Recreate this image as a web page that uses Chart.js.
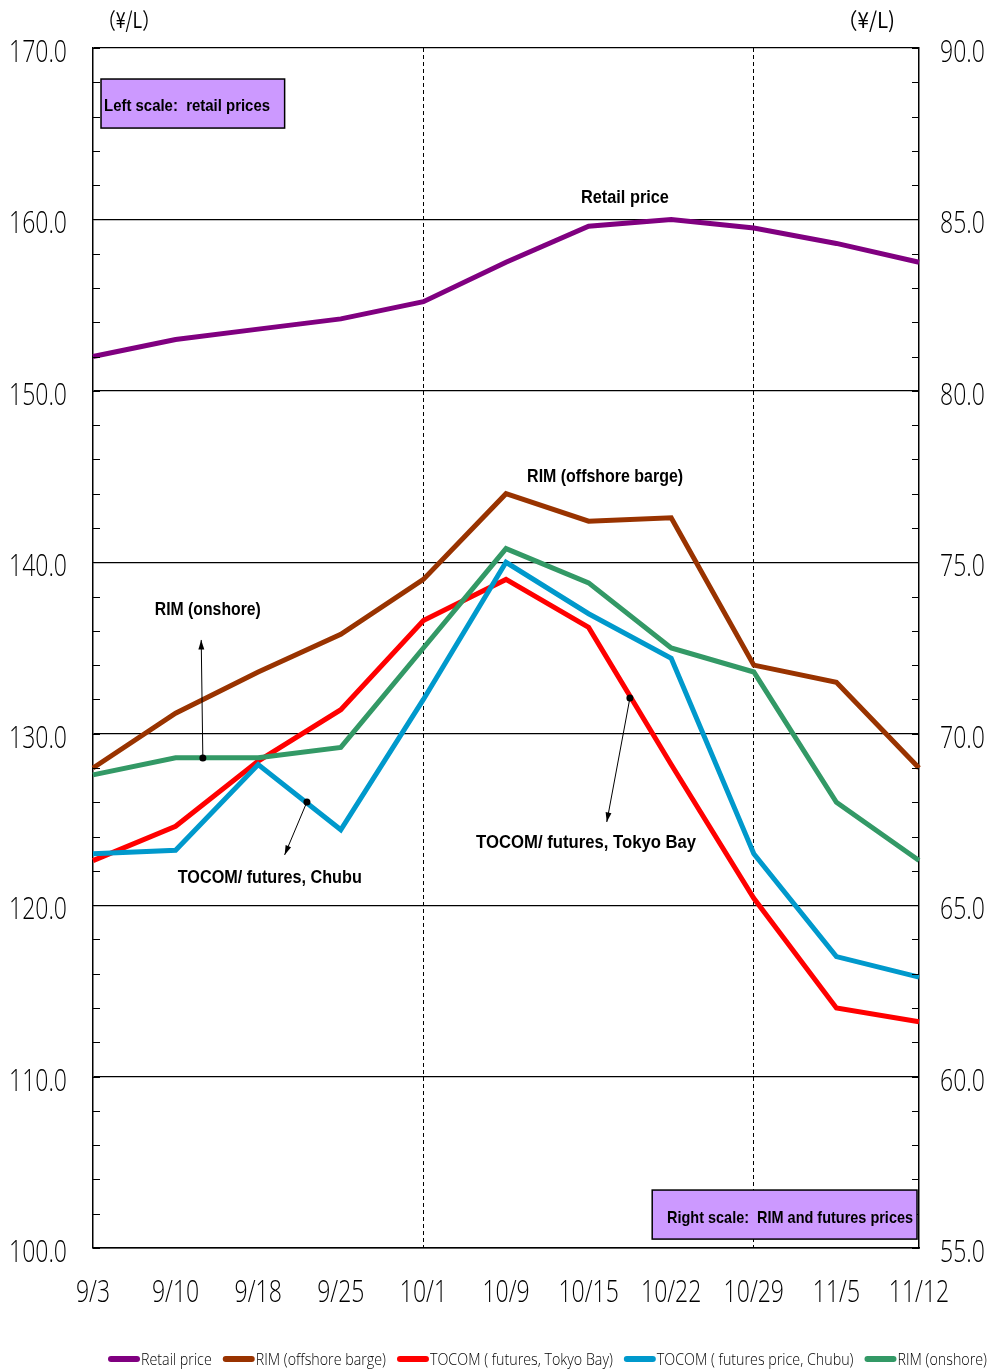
<!DOCTYPE html>
<html><head><meta charset="utf-8">
<script src="https://cdn.jsdelivr.net/npm/chart.js@4/dist/chart.umd.min.js"></script>
<style>html,body{margin:0;padding:0;background:#fff;}#wrap{width:989px;height:1370px;}</style>
</head><body><div id="wrap"><canvas id="c" width="989" height="1370"></canvas></div>
<script>
const categories = ['9/3','9/10','9/18','9/25','10/1','10/9','10/15','10/22','10/29','11/5','11/12'];
const retailPrice = [152.0,153.0,153.6,154.2,155.2,157.5,159.6,160.0,159.5,158.6,157.5];
const rimOffshore = [69.0,70.6,71.8,72.9,74.5,77.0,76.2,76.3,72.0,71.5,69.0];
const tocomTokyo = [66.3,67.3,69.2,70.7,73.3,74.5,73.1,69.1,65.2,62.0,61.6];
const tocomChubu = [66.5,66.6,69.1,67.2,71.0,75.0,73.5,72.2,66.5,63.5,62.9];
const rimOnshore = [68.8,69.3,69.3,69.6,72.5,75.4,74.4,72.5,71.8,68.0,66.3];
const seriesNames = ['Retail price','RIM (offshore barge)','TOCOM ( futures, Tokyo Bay)','TOCOM ( futures price, Chubu)','RIM (onshore)'];
const leftTicks = {min:100, max:170, step:2, major:10};
const rightTicks = {min:55, max:90, step:1, major:5};

const SANS = "'Liberation Sans', Arial, sans-serif";
const THIN = "300 31px 'Open Sans', 'Liberation Sans', sans-serif";
const THIN_S = "300 17px 'Open Sans', 'Liberation Sans', sans-serif";
const colors = ['#800080','#993300','#FF0000','#0099CC','#339966'];
const dataList = [retailPrice, rimOffshore, tocomTokyo, tocomChubu, rimOnshore];
const axisIds = ['yL','yR','yR','yR','yR'];

const datasets = dataList.map((d,i)=>({
  label: seriesNames[i], data: d, yAxisID: axisIds[i],
  borderColor: colors[i], backgroundColor: colors[i],
  borderWidth: 5, pointRadius: 0, tension: 0, order: 5-i,
  borderJoinStyle: 'miter'
}));

function txt(ctx, s, x, y, font, align, sx, baseline){
  ctx.save();
  ctx.font = font; ctx.textAlign = align; ctx.textBaseline = baseline || 'alphabetic';
  ctx.translate(x, y); ctx.scale(sx, 1); ctx.fillText(s, 0, 0);
  ctx.restore();
}
function measure(ctx, s, font){ ctx.save(); ctx.font = font; const w = ctx.measureText(s).width; ctx.restore(); return w; }
function fitTxt(ctx, s, x, y, font, align, width, baseline){
  txt(ctx, s, x, y, font, align, width / measure(ctx, s, font), baseline);
}

function arrow(ctx, x1,y1,x2,y2){
  ctx.beginPath(); ctx.moveTo(x1,y1); ctx.lineTo(x2,y2); ctx.stroke();
  const a = Math.atan2(y2-y1,x2-x1), L=10, w=0.3;
  ctx.beginPath(); ctx.moveTo(x2,y2);
  ctx.lineTo(x2-L*Math.cos(a-w), y2-L*Math.sin(a-w));
  ctx.lineTo(x2-L*Math.cos(a+w), y2-L*Math.sin(a+w));
  ctx.closePath(); ctx.fill();
  ctx.beginPath(); ctx.arc(x1,y1,3.5,0,Math.PI*2); ctx.fill();
}

const decor = {
  id:'decor',
  afterDraw(chart){
    const {ctx, chartArea:ca, scales} = chart;
    const x = scales.x, yL = scales.yL, yR = scales.yR;
    ctx.save();
    ctx.strokeStyle='#000'; ctx.lineWidth=1; ctx.fillStyle='#000';
    const sxT = 58 / measure(ctx, '170.0', THIN);
    yL.ticks.forEach(t=>{
      const p = Math.round(yL.getPixelForValue(t.value))+0.5;
      ctx.beginPath(); ctx.moveTo(ca.left, p); ctx.lineTo(ca.left+7, p); ctx.stroke();
      if (Math.round(t.value)%leftTicks.major===0)
        txt(ctx, t.value.toFixed(1), ca.left-26, yL.getPixelForValue(t.value)+14, THIN, 'right', sxT);
    });
    yR.ticks.forEach(t=>{
      const p = Math.round(yR.getPixelForValue(t.value))+0.5;
      ctx.beginPath(); ctx.moveTo(ca.right-7, p); ctx.lineTo(ca.right, p); ctx.stroke();
      if (Math.round(t.value)%rightTicks.major===0)
        txt(ctx, t.value.toFixed(1), ca.right+21, yR.getPixelForValue(t.value)+14, THIN, 'left', sxT);
    });
    x.ticks.forEach((t)=>{
      txt(ctx, categories[t.value], x.getPixelForValue(t.value), ca.bottom+54, THIN, 'center', sxT);
    });
    // units
    fitTxt(ctx, '（¥/L）', ca.left+36, 28, "22px 'Noto Sans CJK JP', "+SANS, 'center', 62);
    fitTxt(ctx, '（¥/L)', ca.right-53, 28, "22px 'Noto Sans CJK JP', "+SANS, 'center', 58);
    // boxes
    const box = (i1,v1,i2,v2,text,align,w)=>{
      const bx1=x.getPixelForValue(i1), bx2=x.getPixelForValue(i2);
      const by1=yL.getPixelForValue(v1), by2=yL.getPixelForValue(v2);
      ctx.fillStyle='#CC99FF'; ctx.fillRect(bx1,by1,bx2-bx1,by2-by1);
      ctx.strokeStyle='#000'; ctx.lineWidth=1.5; ctx.strokeRect(bx1,by1,bx2-bx1,by2-by1);
      ctx.fillStyle='#000';
      if(align==='left') fitTxt(ctx, text, bx1+3, (by1+by2)/2+7, 'bold 17px '+SANS, 'left', w);
      else fitTxt(ctx, text, bx2-4, (by1+by2)/2+8, 'bold 17px '+SANS, 'right', w);
    };
    box(0.097,168.19,2.32,165.33,'Left scale:  retail prices','left',166);
    box(6.77,103.38,9.976,100.52,'Right scale:  RIM and futures prices','right',246);
    ctx.fillStyle='#000';
    const lab=(i,v,t,w)=>fitTxt(ctx, t, x.getPixelForValue(i), yL.getPixelForValue(v)+7, 'bold 18px '+SANS, 'center', w);
    lab(6.44,161.37,'Retail price',88);
    lab(6.20,145.09,'RIM (offshore barge)',156);
    lab(1.39,137.33,'RIM (onshore)',106);
    lab(2.14,121.7,'TOCOM/ futures, Chubu',184);
    lab(5.97,123.74,'TOCOM/ futures, Tokyo Bay',220);
    ctx.strokeStyle='#000'; ctx.fillStyle='#000'; ctx.lineWidth=1;
    const arr=(i1,v1,i2,v2)=>arrow(ctx,x.getPixelForValue(i1),yL.getPixelForValue(v1),x.getPixelForValue(i2),yL.getPixelForValue(v2));
    arr(1.33,128.58,1.31,135.47);
    arr(2.59,126.02,2.32,122.93);
    arr(6.50,132.08,6.22,124.85);
    // legend (custom, fitted between x=108 and x=987)
    const dsl = chart.data.datasets;
    const swatch = 33, gap = 11, startX = 108, endX = 987, ly = 1359;
    const natural = dsl.reduce((s,ds)=>s+measure(ctx, ds.label, THIN_S), 0);
    const sxL = (endX - startX - dsl.length*swatch - (dsl.length-1)*gap) / natural;
    let lx = startX;
    dsl.forEach((ds)=>{
      ctx.strokeStyle = ds.borderColor; ctx.lineWidth = 6; ctx.lineCap='round';
      ctx.beginPath(); ctx.moveTo(lx+3, ly); ctx.lineTo(lx+29, ly); ctx.stroke();
      ctx.fillStyle='#000';
      txt(ctx, ds.label, lx+swatch, ly+6, THIN_S, 'left', sxL);
      lx += swatch + measure(ctx, ds.label, THIN_S)*sxL + gap;
    });
    ctx.restore();
  }
};

new Chart(document.getElementById('c'), {
  type:'line',
  data:{labels:categories, datasets},
  plugins:[decor],
  options:{
    responsive:false, animation:false, devicePixelRatio:1,
    layout:{padding:{top:48,left:0,right:0,bottom:0}},
    plugins:{ tooltip:{enabled:false}, legend:{display:false} },
    scales:{
      x:{offset:false,
        grid:{drawTicks:false, lineWidth:1, color:(c)=> (c.index===4||c.index===8)?'#000':'rgba(0,0,0,0)'},
        border:{display:true, color:'#000', width:1.5, dash:[4,3]},
        ticks:{display:false, autoSkip:false},
        afterFit:(s)=>{s.height=122;}
      },
      yL:{position:'left', min:leftTicks.min, max:leftTicks.max,
        grid:{drawTicks:false, lineWidth:1.2, color:(c)=> (c.tick && Math.round(c.tick.value)%leftTicks.major===0)?'#000':'rgba(0,0,0,0)'},
        border:{display:true,color:'#000',width:1.5},
        ticks:{display:false, stepSize:leftTicks.step, autoSkip:false},
        afterFit:(s)=>{s.width=93;}
      },
      yR:{position:'right', min:rightTicks.min, max:rightTicks.max,
        grid:{drawOnChartArea:false, drawTicks:false},
        border:{display:true,color:'#000',width:1.5},
        ticks:{display:false, stepSize:rightTicks.step, autoSkip:false},
        afterFit:(s)=>{s.width=70;}
      }
    }
  }
});
</script></body></html>
